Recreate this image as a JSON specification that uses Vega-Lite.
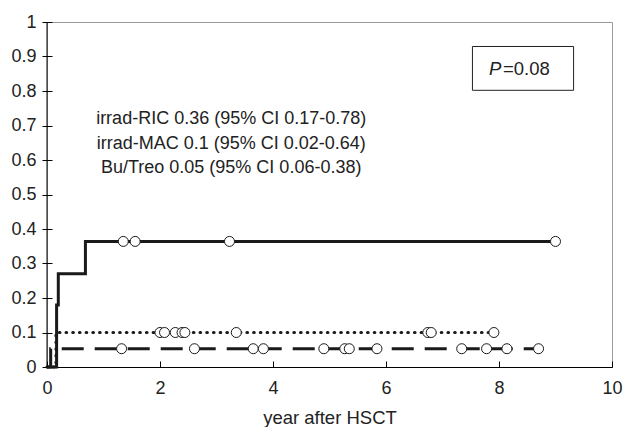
{
  "$schema": "https://vega.github.io/schema/vega-lite/v6.json",
  "width": 565,
  "height": 345,
  "autosize": {"type": "none"},
  "padding": {"left": 47, "top": 22, "right": 12, "bottom": 60},
  "background": "white",
  "config": {
    "font": "Liberation Sans",
    "view": {"stroke": "#9a9a9a", "strokeWidth": 1}
  },
  "datasets": {
    "curves": [
      {"group": "irrad-RIC", "t": 0, "p": 0},
      {"group": "irrad-RIC", "t": 0.17, "p": 0.18},
      {"group": "irrad-RIC", "t": 0.2, "p": 0.27},
      {"group": "irrad-RIC", "t": 0.68, "p": 0.364},
      {"group": "irrad-RIC", "t": 9.0, "p": 0.364},
      {"group": "irrad-MAC", "t": 0, "p": 0},
      {"group": "irrad-MAC", "t": 0.16, "p": 0.1},
      {"group": "irrad-MAC", "t": 7.91, "p": 0.1},
      {"group": "Bu/Treo", "t": 0, "p": 0},
      {"group": "Bu/Treo", "t": 0.065, "p": 0.053},
      {"group": "Bu/Treo", "t": 8.7, "p": 0.053}
    ],
    "censored": [
      {"group": "irrad-RIC", "t": 1.35, "p": 0.364},
      {"group": "irrad-RIC", "t": 1.56, "p": 0.364},
      {"group": "irrad-RIC", "t": 3.23, "p": 0.364},
      {"group": "irrad-RIC", "t": 9.0, "p": 0.364},
      {"group": "irrad-MAC", "t": 2.0, "p": 0.1},
      {"group": "irrad-MAC", "t": 2.08, "p": 0.1},
      {"group": "irrad-MAC", "t": 2.27, "p": 0.1},
      {"group": "irrad-MAC", "t": 2.39, "p": 0.1},
      {"group": "irrad-MAC", "t": 2.44, "p": 0.1},
      {"group": "irrad-MAC", "t": 3.35, "p": 0.1},
      {"group": "irrad-MAC", "t": 6.74, "p": 0.1},
      {"group": "irrad-MAC", "t": 6.8, "p": 0.1},
      {"group": "irrad-MAC", "t": 7.91, "p": 0.1},
      {"group": "Bu/Treo", "t": 1.32, "p": 0.053},
      {"group": "Bu/Treo", "t": 2.61, "p": 0.053},
      {"group": "Bu/Treo", "t": 3.65, "p": 0.053},
      {"group": "Bu/Treo", "t": 3.83, "p": 0.053},
      {"group": "Bu/Treo", "t": 4.9, "p": 0.053},
      {"group": "Bu/Treo", "t": 5.27, "p": 0.053},
      {"group": "Bu/Treo", "t": 5.35, "p": 0.053},
      {"group": "Bu/Treo", "t": 5.84, "p": 0.053},
      {"group": "Bu/Treo", "t": 7.34, "p": 0.053},
      {"group": "Bu/Treo", "t": 7.78, "p": 0.053},
      {"group": "Bu/Treo", "t": 8.14, "p": 0.053},
      {"group": "Bu/Treo", "t": 8.7, "p": 0.053}
    ],
    "note": [{"label": "note"}]
  },
  "encoding": {
    "x": {
      "type": "quantitative",
      "scale": {"domain": [0, 10], "nice": false, "zero": false},
      "axis": {
        "title": "year after HSCT", "values": [0, 2, 4, 6, 8, 10], "format": "d",
        "grid": false, "domainColor": "black", "tickColor": "black", "tickSize": -6,
        "labelFlush": false, "labelOverlap": false, "labelFontSize": 18, "labelColor": "#222", "labelPadding": 18,
        "titleFontSize": 18.5, "titleFontWeight": "normal", "titleColor": "#222", "titlePadding": 11
      }
    },
    "y": {
      "type": "quantitative",
      "scale": {"domain": [0, 1], "nice": false},
      "axis": {
        "title": null, "values": [0, 0.1, 0.2, 0.3, 0.4, 0.5, 0.6, 0.7, 0.8, 0.9, 1], "format": "~g",
        "grid": false, "domain": false, "offset": -5, "tickSize": 10, "tickColor": "black",
        "labelOverlap": false, "labelFontSize": 18, "labelColor": "#222", "labelPadding": 6
      }
    }
  },
  "layer": [
    {
      "data": {"name": "curves"},
      "transform": [{"filter": "datum.group === 'irrad-RIC'"}],
      "mark": {"type": "line", "interpolate": "step-after", "color": "#1a1a1a", "strokeWidth": 3},
      "encoding": {"x": {"field": "t"}, "y": {"field": "p"}}
    },
    {
      "data": {"name": "curves"},
      "transform": [{"filter": "datum.group === 'irrad-MAC'"}],
      "mark": {"type": "line", "interpolate": "step-after", "color": "#1a1a1a", "strokeWidth": 3.2, "strokeDash": [0.5, 6.2], "strokeCap": "round"},
      "encoding": {"x": {"field": "t"}, "y": {"field": "p"}}
    },
    {
      "data": {"name": "curves"},
      "transform": [{"filter": "datum.group === 'Bu/Treo'"}],
      "mark": {"type": "line", "interpolate": "step-after", "color": "#1a1a1a", "strokeWidth": 3, "strokeDash": [22, 11]},
      "encoding": {"x": {"field": "t"}, "y": {"field": "p"}}
    },
    {
      "data": {"name": "censored"},
      "mark": {"type": "point", "shape": "circle", "filled": true, "fill": "white", "stroke": "#1a1a1a", "strokeWidth": 1, "size": 100, "opacity": 1},
      "encoding": {"x": {"field": "t"}, "y": {"field": "p"}}
    },
    {
      "data": {"name": "note"},
      "mark": {"type": "rule", "color": "black", "strokeWidth": 1},
      "encoding": {"x": {"datum": 0}, "y": null}
    },
    {
      "data": {"name": "note"},
      "mark": {"type": "text", "text": ["irrad-RIC 0.36 (95% CI 0.17-0.78)", "irrad-MAC 0.1 (95% CI 0.02-0.64)", "Bu/Treo 0.05 (95% CI 0.06-0.38)"], "align": "center", "baseline": "alphabetic", "fontSize": 18, "lineHeight": 24.5, "color": "#222"},
      "encoding": {"x": {"datum": 3.26}, "y": {"datum": 0.704}}
    },
    {
      "data": {"name": "note"},
      "mark": {"type": "rect", "fill": "white", "stroke": "#222", "strokeWidth": 1},
      "encoding": {"x": {"datum": 7.53}, "x2": {"datum": 9.32}, "y": {"datum": 0.929}, "y2": {"datum": 0.802}}
    },
    {
      "data": {"name": "note"},
      "mark": {"type": "text", "text": "P", "fontStyle": "italic", "align": "right", "baseline": "alphabetic", "fontSize": 18.5, "color": "#222"},
      "encoding": {"x": {"datum": 8.04}, "y": {"datum": 0.846}}
    },
    {
      "data": {"name": "note"},
      "mark": {"type": "text", "text": "=0.08", "align": "left", "baseline": "alphabetic", "fontSize": 18.5, "color": "#222"},
      "encoding": {"x": {"datum": 8.07}, "y": {"datum": 0.846}}
    }
  ]
}
